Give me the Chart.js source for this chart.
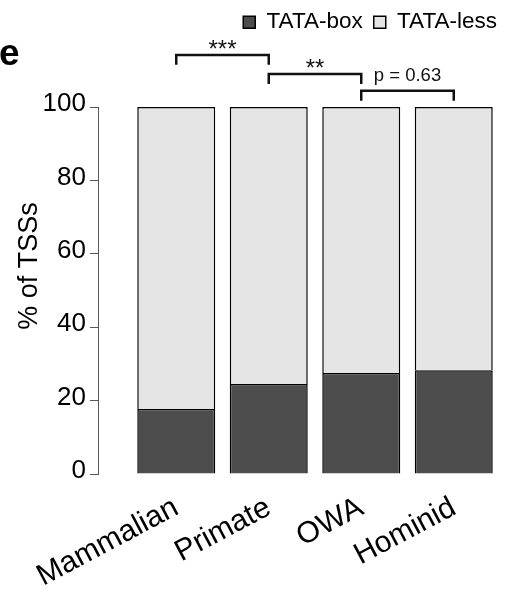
<!DOCTYPE html>
<html>
<head>
<meta charset="utf-8">
<script src="https://cdn.jsdelivr.net/npm/chart.js@4"></script>
<style>
  html, body { margin: 0; padding: 0; background: #fff; }
  #wrap { width: 508px; height: 597px; }
</style>
</head>
<body>
<div id="wrap"><canvas id="chart-tss" width="508" height="597"></canvas></div>
<script>
const categories = ["Mammalian", "Primate", "OWA", "Hominid"];
const tataBox = [17.7, 24.5, 27.5, 28.3];
const tataLess = [82.3, 75.5, 72.5, 71.7];
const yTicks = [0, 20, 40, 60, 80, 100];

// pairwise tests drawn above the bars
const testPairs = [[0, 1], [1, 2], [2, 3]];
const testLevels = [114.2, 109, 104.4];
const testLabels = ["***", "**", "p = 0.63"];

const FONT = "'Liberation Sans', Arial, Helvetica, sans-serif";

const bracketPlugin = {
  id: "brackets",
  afterDatasetsDraw(chart) {
    const { ctx } = chart;
    const x = chart.scales.x;
    const y = chart.scales.y;
    ctx.save();
    ctx.strokeStyle = "#111";
    ctx.lineWidth = 2.5;
    ctx.fillStyle = "#111";
    ctx.textAlign = "center";
    ctx.textBaseline = "alphabetic";
    testPairs.forEach((pair, i) => {
      const x1 = x.getPixelForValue(pair[0]);
      const x2 = x.getPixelForValue(pair[1]);
      const yTop = y.getPixelForValue(testLevels[i]);
      const yLeg = y.getPixelForValue(testLevels[i] - 2.7);
      ctx.beginPath();
      ctx.moveTo(x1, yLeg);
      ctx.lineTo(x1, yTop);
      ctx.lineTo(x2, yTop);
      ctx.lineTo(x2, yLeg);
      ctx.stroke();
      const label = testLabels[i];
      ctx.font = label.startsWith("*") ? `24px ${FONT}` : `18.5px ${FONT}`;
      const m = ctx.measureText(label);
      ctx.fillText(label, (x1 + x2) / 2, yTop - 6 - m.actualBoundingBoxDescent);
    });
    ctx.restore();
  },
};

const extraTextPlugin = {
  id: "extraText",
  afterDraw(chart) {
    const { ctx } = chart;
    ctx.save();
    ctx.fillStyle = "#000";
    // panel letter
    ctx.font = `bold 37px ${FONT}`;
    ctx.textAlign = "left";
    ctx.textBaseline = "alphabetic";
    ctx.fillText("e", -1, 65);
    // y axis title
    ctx.translate(30, 266);
    ctx.rotate(-Math.PI / 2);
    ctx.font = `27px ${FONT}`;
    ctx.textAlign = "center";
    ctx.textBaseline = "middle";
    ctx.fillText("% of TSSs", 0, 0);
    ctx.restore();
  },
};

const canvas = document.getElementById("chart-tss");
new Chart(canvas, {
  type: "bar",
  data: {
    labels: categories,
    datasets: [
      {
        label: "TATA-box",
        data: tataBox,
        backgroundColor: "#4d4d4d",
        borderColor: "#000",
        borderWidth: 1.5,
        barPercentage: 0.843,
        categoryPercentage: 1,
      },
      {
        label: "TATA-less",
        data: tataLess,
        backgroundColor: "#e5e5e5",
        borderColor: "#000",
        borderWidth: 1.5,
        barPercentage: 0.843,
        categoryPercentage: 1,
      },
    ],
  },
  options: {
    responsive: false,
    animation: false,
    layout: { padding: 0 },
    scales: {
      x: {
        stacked: true,
        grid: { display: false },
        border: { display: false },
        ticks: {
          color: "#000",
          font: { family: FONT, size: 30 },
          maxRotation: 28,
          minRotation: 28,
          autoSkip: false,
          padding: 8,
        },
        afterFit: (s) => { s.height = 123; },
      },
      xTop: {
        type: "category",
        position: "top",
        grid: { display: false },
        border: { display: false },
        ticks: { display: false },
        afterFit: (s) => { s.height = 63.5; },
      },
      y: {
        stacked: true,
        position: "left",
        weight: 1,
        min: 0,
        max: 100,
        afterBuildTicks: (s) => { s.ticks = yTicks.map((v) => ({ value: v })); },
        grid: { drawOnChartArea: false, drawTicks: true, tickLength: 8, color: "#555", lineWidth: 1 },
        border: { display: true, color: "#555", width: 1 },
        ticks: {
          color: "#000",
          font: { family: FONT, size: 26 },
          padding: 4,
          labelOffset: -3,
        },
        afterFit: (s) => { s.width = 98; },
      },
      yGap: {
        type: "linear",
        position: "left",
        weight: 0,
        grid: { display: false },
        border: { display: false },
        ticks: { display: false },
        afterFit: (s) => { s.width = 32; },
      },
      yRight: {
        type: "linear",
        position: "right",
        grid: { display: false },
        border: { display: false },
        ticks: { display: false },
        afterFit: (s) => { s.width = 8; },
      },
    },
    plugins: {
      legend: {
        position: "top",
        align: "end",
        labels: {
          color: "#000",
          font: { family: FONT, size: 22.5 },
          boxWidth: 12,
          boxHeight: 12,
          padding: 11,
        },
      },
      tooltip: { enabled: false },
    },
  },
  plugins: [bracketPlugin, extraTextPlugin],
});
</script>
</body>
</html>
